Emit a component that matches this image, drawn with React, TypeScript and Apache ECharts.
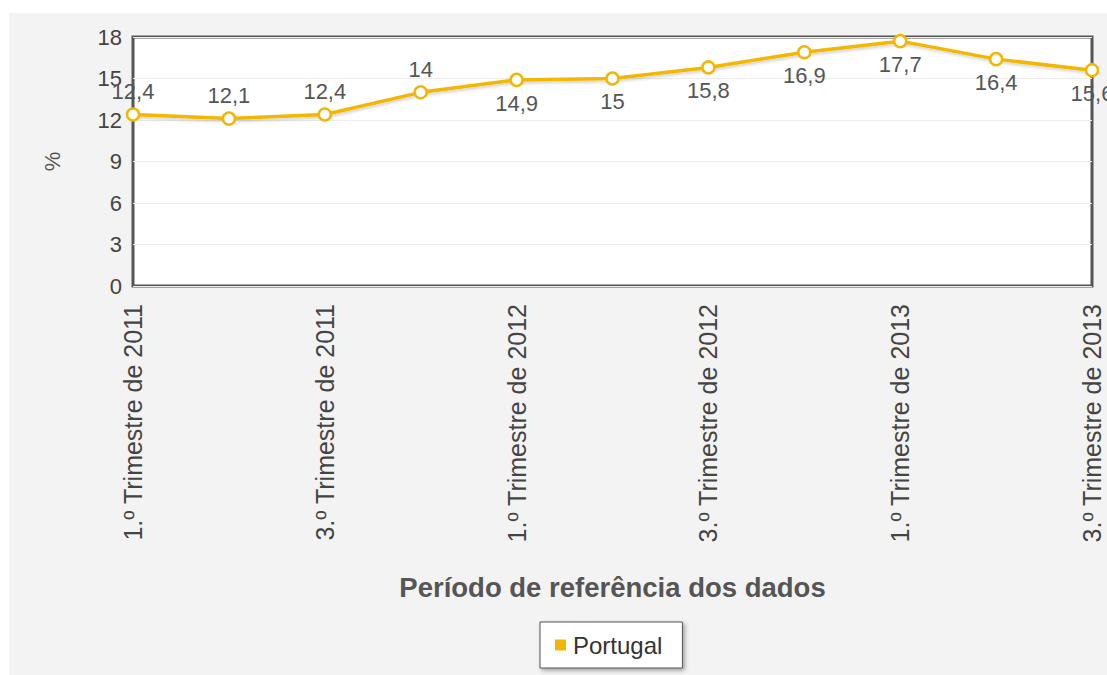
import React, { useEffect, useRef } from "react";
import * as echarts from "echarts";

// Quarterly series for Portugal, Q1 2011 – Q3 2013
const quarters = [
  "1.º Trimestre de 2011",
  "2.º Trimestre de 2011",
  "3.º Trimestre de 2011",
  "4.º Trimestre de 2011",
  "1.º Trimestre de 2012",
  "2.º Trimestre de 2012",
  "3.º Trimestre de 2012",
  "4.º Trimestre de 2012",
  "1.º Trimestre de 2013",
  "2.º Trimestre de 2013",
  "3.º Trimestre de 2013",
];
const portugal = [12.4, 12.1, 12.4, 14, 14.9, 15, 15.8, 16.9, 17.7, 16.4, 15.6];

const seriesName = "Portugal";
const yAxisTitle = "%";
const xAxisTitle = "Período de referência dos dados";

const FONT = "'Liberation Sans', Arial, Helvetica, sans-serif";
const LINE_COLOR = "#f2b705";
const TEXT_COLOR = "#555";

export default function App() {
  const ref = useRef<HTMLDivElement>(null);

  useEffect(() => {
    if (!ref.current) return;
    const chart = echarts.init(ref.current, undefined, { renderer: "svg" });

    // Labels of points in the upper band go underneath so they stay inside the frame
    const points = portugal.map((v) => ({
      value: v,
      label: { position: v >= 14.5 ? "bottom" : "top" },
    }));

    chart.setOption({
      animation: false,
      backgroundColor: "#f3f3f3",
      textStyle: { fontFamily: FONT },
      grid: {
        left: 124,
        top: 24,
        width: 959,
        height: 249,
        show: true,
        backgroundColor: "#ffffff",
        borderColor: "#555555",
        borderWidth: 3,
      },
      legend: {
        left: 531,
        top: 609,
        data: [seriesName],
        icon: "rect",
        itemWidth: 11,
        itemHeight: 11,
        itemGap: 10,
        padding: [11, 20, 11, 15],
        backgroundColor: "#ffffff",
        borderColor: "#555555",
        borderWidth: 1,
        shadowColor: "rgba(0,0,0,0.35)",
        shadowBlur: 4,
        shadowOffsetX: 2,
        shadowOffsetY: 2,
        itemStyle: { color: LINE_COLOR, borderWidth: 0 },
        textStyle: { color: "#333", fontSize: 24, fontFamily: FONT, padding: [0, 0, 0, 2] },
      },
      xAxis: {
        type: "category",
        data: quarters,
        boundaryGap: false,
        axisLine: { show: false },
        axisTick: { show: false },
        axisLabel: {
          interval: 1,
          rotate: 90,
          margin: 18,
          color: "#444",
          fontSize: 25,
          fontFamily: FONT,
        },
        splitLine: { show: false },
        name: xAxisTitle,
        nameLocation: "middle",
        nameGap: 287,
        nameTextStyle: {
          color: TEXT_COLOR,
          fontSize: 27.5,
          fontWeight: "bold",
          fontFamily: FONT,
        },
      },
      yAxis: {
        type: "value",
        min: 0,
        max: 18,
        interval: 3,
        axisLine: { show: false },
        axisTick: { show: false },
        axisLabel: {
          margin: 11,
          color: "#444",
          fontSize: 22,
          fontFamily: FONT,
        },
        splitLine: { lineStyle: { color: "#ececec", width: 1 } },
        name: yAxisTitle,
        nameLocation: "middle",
        nameGap: 70,
        nameTextStyle: { color: TEXT_COLOR, fontSize: 22, fontFamily: FONT },
      },
      series: [
        {
          name: seriesName,
          type: "line",
          data: points,
          color: LINE_COLOR,
          symbol: "circle",
          symbolSize: 12,
          showAllSymbol: true,
          lineStyle: {
            color: LINE_COLOR,
            width: 3.5,
            shadowColor: "rgba(0,0,0,0.18)",
            shadowBlur: 3,
            shadowOffsetX: 1,
            shadowOffsetY: 2,
          },
          itemStyle: {
            color: "#ffffff",
            borderColor: LINE_COLOR,
            borderWidth: 2.5,
          },
          label: {
            show: true,
            distance: 5,
            color: TEXT_COLOR,
            fontSize: 22,
            fontFamily: FONT,
            formatter: (p: any) => String(p.value).replace(".", ","),
          },
        },
      ],
    });

    return () => chart.dispose();
  }, []);

  return (
    <div
      style={{
        position: "fixed",
        left: 0,
        top: 0,
        width: 1107,
        height: 675,
        background: "#ffffff",
        overflow: "hidden",
      }}
    >
      <div
        ref={ref}
        style={{ position: "absolute", left: 9, top: 13, width: 1098, height: 662 }}
      />
    </div>
  );
}
